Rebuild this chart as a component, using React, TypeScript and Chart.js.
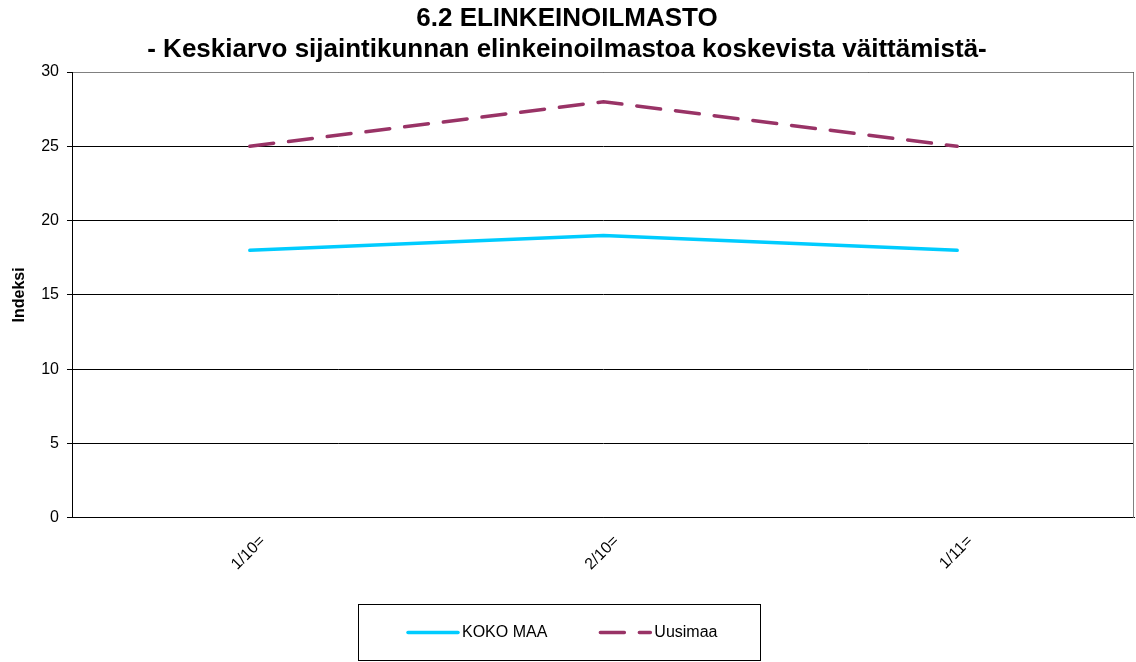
import React, { useEffect, useRef } from "react";
import { Chart, registerables } from "chart.js";

Chart.register(...registerables);

const titleLines = [
  "6.2 ELINKEINOILMASTO",
  "- Keskiarvo sijaintikunnan elinkeinoilmastoa koskevista väittämistä-",
];
const categories = ["1/10=", "2/10=", "1/11="];
const kokoMaa = [18, 19, 18];
const uusimaa = [25, 28, 25];
const seriesNames = ["KOKO MAA", "Uusimaa"];
const seriesColors = ["#00CCFF", "#993366"];
const seriesDashes: number[][] = [[], [24, 15]];
const yAxisTitle = "Indeksi";

const FONT = "Arial, 'Liberation Sans', sans-serif";

const frame = {
  id: "frame",
  afterDatasetsDraw(chart: any) {
    const { ctx, chartArea } = chart;
    ctx.save();
    ctx.strokeStyle = "#808080";
    ctx.lineWidth = 1;
    ctx.beginPath();
    ctx.moveTo(chartArea.left, Math.round(chartArea.top) + 0.5);
    ctx.lineTo(Math.round(chartArea.right) - 0.5, Math.round(chartArea.top) + 0.5);
    ctx.lineTo(Math.round(chartArea.right) - 0.5, chartArea.bottom);
    ctx.stroke();
    ctx.restore();
  },
};

const boxLegend = {
  id: "boxLegend",
  afterDraw(chart: any) {
    const { ctx, width, height } = chart;
    const ds = chart.data.datasets;
    ctx.save();
    ctx.font = "16px " + FONT;
    const sample = 50;
    const gapText = 4;
    const gapItem = 53;
    const padL = 50;
    const padR = 43;
    const widths = ds.map((d: any) => ctx.measureText(d.label).width);
    let boxW = padL + padR;
    widths.forEach((w: number, i: number) => {
      boxW += sample + gapText + w + (i < widths.length - 1 ? gapItem : 0);
    });
    const boxH = 56;
    const boxL = Math.round((width - boxW) / 2 - 9);
    const boxT = height - 58;
    ctx.strokeStyle = "#000";
    ctx.lineWidth = 1;
    ctx.strokeRect(boxL + 0.5, boxT + 0.5, Math.round(boxW), boxH);
    const cy = boxT + boxH / 2 + 0.5;
    let x = boxL + padL;
    ds.forEach((d: any, i: number) => {
      ctx.strokeStyle = d.borderColor;
      ctx.lineWidth = 3.5;
      ctx.lineCap = "round";
      ctx.setLineDash(d.borderDash || []);
      ctx.beginPath();
      ctx.moveTo(x, cy);
      ctx.lineTo(x + sample, cy);
      ctx.stroke();
      ctx.setLineDash([]);
      ctx.fillStyle = "#000";
      ctx.textBaseline = "middle";
      ctx.textAlign = "left";
      ctx.fillText(d.label, x + sample + gapText, cy);
      x += sample + gapText + widths[i] + gapItem;
    });
    ctx.restore();
  },
};

export default function App() {
  const ref = useRef<HTMLCanvasElement>(null);
  useEffect(() => {
    document.body.style.margin = "0";
    const chart = new Chart(ref.current!, {
      type: "line",
      data: {
        labels: categories,
        datasets: [kokoMaa, uusimaa].map((vals, i) => ({
          label: seriesNames[i],
          data: vals,
          borderColor: seriesColors[i],
          backgroundColor: seriesColors[i],
          borderWidth: 3.5,
          borderDash: seriesDashes[i],
          borderCapStyle: "round",
          pointRadius: 0,
          tension: 0,
        })),
      },
      options: {
        animation: false,
        responsive: false,
        layout: { padding: { left: 0, right: 2, top: 0, bottom: 74 } },
        plugins: {
          title: {
            display: true,
            text: titleLines,
            color: "#000",
            font: { family: FONT, size: 26, weight: "bold", lineHeight: 31 / 26 },
            padding: { top: 3, bottom: 7 },
          },
          legend: { display: false },
          tooltip: { enabled: false },
        },
        scales: {
          x: {
            offset: true,
            grid: { display: false, drawTicks: false },
            border: { display: true, color: "#000", width: 1 },
            ticks: {
              color: "#000",
              font: { family: FONT, size: 16 },
              maxRotation: 45,
              minRotation: 45,
              padding: 14,
              labelOffset: 13,
            },
          },
          y: {
            min: 0,
            max: 30,
            grid: {
              color: "#000",
              lineWidth: 1,
              drawTicks: true,
              tickLength: 6,
              tickColor: "#000",
            },
            border: { display: true, color: "#000", width: 1 },
            ticks: {
              stepSize: 5,
              color: "#000",
              font: { family: FONT, size: 16 },
              padding: 8,
            },
            title: {
              display: true,
              text: yAxisTitle,
              color: "#000",
              font: { family: FONT, size: 16, weight: "bold" },
              padding: { top: 10, bottom: 4 },
            },
          },
        },
      },
      plugins: [frame, boxLegend],
    });
    return () => chart.destroy();
  }, []);
  return <canvas ref={ref} width={1136} height={662} style={{ display: "block" }} />;
}
